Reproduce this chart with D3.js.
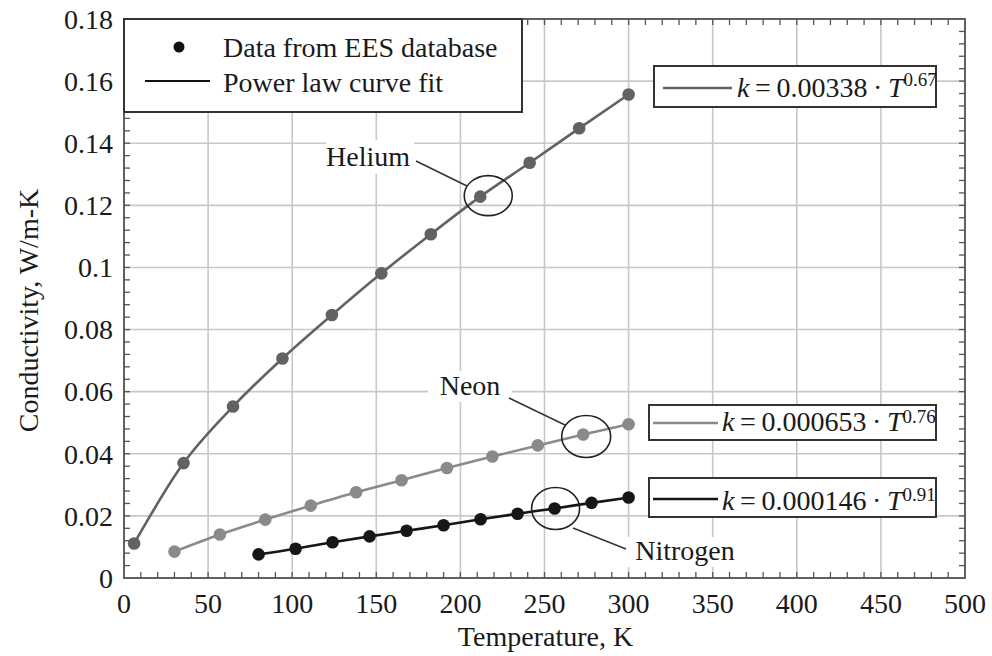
<!DOCTYPE html>
<html>
<head>
<meta charset="utf-8">
<script src="https://cdn.jsdelivr.net/npm/d3@7"></script>
<style>
  html, body { margin: 0; padding: 0; background: #fff; }
  svg { display: block; }
  text { font-family: "Liberation Serif", "Times New Roman", serif; fill: #1a1a1a; }
</style>
</head>
<body>
<svg id="chart" width="992" height="656"></svg>
<script>
// Thermal conductivity of gases (EES) with power-law fits
const heliumT = [6, 35.4, 64.8, 94.2, 123.6, 153, 182.4, 211.8, 241.2, 270.6, 300];
const heliumK = [0.0111, 0.0370, 0.0552, 0.0707, 0.0847, 0.0981, 0.1107, 0.1228, 0.1337, 0.1448, 0.1557];
const neonT = [30, 57, 84, 111, 138, 165, 192, 219, 246, 273, 300];
const neonK = [0.0085, 0.0140, 0.0188, 0.0233, 0.0276, 0.0315, 0.0354, 0.0391, 0.0427, 0.0462, 0.0495];
const nitrogenT = [80, 102, 124, 146, 168, 190, 212, 234, 256, 278, 300];
const nitrogenK = [0.0076, 0.0094, 0.0115, 0.0134, 0.0152, 0.0170, 0.0189, 0.0207, 0.0224, 0.0242, 0.0259];

const gasNames = ["Helium", "Neon", "Nitrogen"];
const fitCoefs = ["0.00338", "0.000653", "0.000146"];
const fitExps = ["0.67", "0.76", "0.91"];

const xTickValues = [0, 50, 100, 150, 200, 250, 300, 350, 400, 450, 500];
const yTickValues = [0, 0.02, 0.04, 0.06, 0.08, 0.1, 0.12, 0.14, 0.16, 0.18];
const yTickLabels = ["0", "0.02", "0.04", "0.06", "0.08", "0.1", "0.12", "0.14", "0.16", "0.18"];

const legendLabels = ["Data from EES database", "Power law curve fit"];
const xTitle = "Temperature, K";
const yTitle = "Conductivity, W/m-K";

const colors = ["#626262", "#8a8a8a", "#161616"];

const margin = { left: 124, right: 27, top: 19, bottom: 78 };
const W = 992, H = 656;
const x = d3.scaleLinear().domain([0, 500]).range([margin.left, W - margin.right]);
const y = d3.scaleLinear().domain([0, 0.18]).range([H - margin.bottom, margin.top]);

const svg = d3.select("#chart");
const FS = 28;

// Grid
const grid = svg.append("g");
grid.selectAll("line.gx").data(xTickValues.slice(1, -1)).join("line")
  .attr("x1", d => x(d)).attr("x2", d => x(d))
  .attr("y1", y(0)).attr("y2", y(0.18))
  .attr("stroke", "#c8c8c8").attr("stroke-width", 1.6);
grid.selectAll("line.gy").data(yTickValues.slice(1, -1)).join("line")
  .attr("y1", d => y(d)).attr("y2", d => y(d))
  .attr("x1", x(0)).attr("x2", x(500))
  .attr("stroke", "#c8c8c8").attr("stroke-width", 1.6);

// Minor ticks on all four sides, pointing inward
const tickLen = 6;
const xMinor = d3.range(10, 500, 10);
const yMinor = d3.range(1, 45).map(i => i * 0.004);
const ticks = svg.append("g").attr("stroke", "#555").attr("stroke-width", 1.3);
ticks.selectAll("line.xb").data(xMinor).join("line")
  .attr("x1", d => x(d)).attr("x2", d => x(d)).attr("y1", y(0)).attr("y2", y(0) - tickLen);
ticks.selectAll("line.xt").data(xMinor).join("line")
  .attr("x1", d => x(d)).attr("x2", d => x(d)).attr("y1", y(0.18)).attr("y2", y(0.18) + tickLen);
ticks.selectAll("line.yl").data(yMinor).join("line")
  .attr("y1", d => y(d)).attr("y2", d => y(d)).attr("x1", x(0)).attr("x2", x(0) + tickLen);
ticks.selectAll("line.yr").data(yMinor).join("line")
  .attr("y1", d => y(d)).attr("y2", d => y(d)).attr("x1", x(500)).attr("x2", x(500) - tickLen);

// Series
const series = [
  { t: heliumT, k: heliumK },
  { t: neonT, k: neonK },
  { t: nitrogenT, k: nitrogenK }
].map((s, i) => ({ name: gasNames[i], color: colors[i], pts: s.t.map((t, j) => [t, s.k[j]]) }));

const line = d3.line().x(d => x(d[0])).y(d => y(d[1])).curve(d3.curveMonotoneX);
const sg = svg.append("g");
series.forEach(s => {
  sg.append("path").attr("d", line(s.pts)).attr("fill", "none")
    .attr("stroke", s.color).attr("stroke-width", 2.6);
  sg.selectAll(null).data(s.pts).join("circle")
    .attr("cx", d => x(d[0])).attr("cy", d => y(d[1])).attr("r", 6.3)
    .attr("fill", s.color);
});

// Frame
svg.append("rect").attr("x", x(0)).attr("y", y(0.18))
  .attr("width", x(500) - x(0)).attr("height", y(0) - y(0.18))
  .attr("fill", "none").attr("stroke", "#505050").attr("stroke-width", 1.8);

// Axis tick labels
svg.append("g").selectAll("text").data(xTickValues).join("text")
  .attr("x", d => x(d)).attr("y", y(0) + 35)
  .attr("text-anchor", "middle").attr("font-size", FS)
  .text(d => d);
svg.append("g").selectAll("text").data(yTickValues).join("text")
  .attr("x", x(0) - 11).attr("y", d => y(d)).attr("dy", "0.35em")
  .attr("text-anchor", "end").attr("font-size", FS)
  .text((d, i) => yTickLabels[i]);

// Axis titles
svg.append("text").attr("x", (x(0) + x(500)) / 2 + 1).attr("y", 646)
  .attr("text-anchor", "middle").attr("font-size", FS).text(xTitle);
svg.append("text").attr("transform", `translate(38,${(y(0) + y(0.18)) / 2 + 12}) rotate(-90)`)
  .attr("text-anchor", "middle").attr("font-size", FS).text(yTitle);

// Legend
const lg = svg.append("g");
lg.append("rect").attr("x", x(0)).attr("y", y(0.18)).attr("width", 398).attr("height", 93)
  .attr("fill", "#fff").attr("stroke", "#333").attr("stroke-width", 2);
lg.append("circle").attr("cx", 179).attr("cy", 47).attr("r", 5.5).attr("fill", "#111");
lg.append("line").attr("x1", 145).attr("x2", 210).attr("y1", 81).attr("y2", 81)
  .attr("stroke", "#111").attr("stroke-width", 2.2);
lg.append("text").attr("x", 223).attr("y", 57).attr("font-size", FS).text(legendLabels[0]);
lg.append("text").attr("x", 223).attr("y", 92).attr("font-size", FS).text(legendLabels[1]);

// Fit equation boxes
const boxes = [
  { x0: 654, y0: 66, h: 41, l0: 663, l1: 732, ly: 88, tx: 737, ty: 97, sup: -11 },
  { x0: 649, y0: 405, h: 35, l0: 653, l1: 718, ly: 423, tx: 722, ty: 431, sup: -8 },
  { x0: 649, y0: 478, h: 39, l0: 653, l1: 718, ly: 499, tx: 722, ty: 510, sup: -9 }
];
boxes.forEach((b, i) => {
  const g = svg.append("g");
  g.append("rect").attr("x", b.x0).attr("y", b.y0).attr("width", 936 - b.x0).attr("height", b.h)
    .attr("fill", "#fff").attr("stroke", "#333").attr("stroke-width", 2);
  g.append("line").attr("x1", b.l0).attr("x2", b.l1).attr("y1", b.ly).attr("y2", b.ly)
    .attr("stroke", colors[i]).attr("stroke-width", 2.6);
  const t = g.append("text").attr("x", b.tx).attr("y", b.ty).attr("font-size", FS);
  t.append("tspan").attr("font-style", "italic").text("k");
  t.append("tspan").text("\u2009=\u2009" + fitCoefs[i] + "\u2009·\u2009");
  t.append("tspan").attr("font-style", "italic").text("T");
  t.append("tspan").attr("font-size", 19).attr("dy", b.sup).text(fitExps[i]);
});

// Callouts: label, leader line and ellipse round one data point of each gas
const callouts = [
  { s: 0, idx: 7, ex: 8, ey: -1, rx: 24, ry: 20, lx: 368, ly: 166, bx: [326, 140, 88, 34], l: [416, 161, 467, 186] },
  { s: 1, idx: 9, ex: 3, ey: 2, rx: 24.5, ry: 21, lx: 470, ly: 395, bx: [428, 371, 84, 31], l: [509, 398, 565, 425] },
  { s: 2, idx: 8, ex: 1, ey: 0, rx: 24, ry: 21, lx: 685, ly: 560, bx: [626, 537, 118, 30], l: [573, 528, 626, 549] }
];
const cg = svg.append("g");
callouts.forEach(c => {
  const p = series[c.s].pts[c.idx];
  cg.append("rect").attr("x", c.bx[0]).attr("y", c.bx[1]).attr("width", c.bx[2]).attr("height", c.bx[3])
    .attr("fill", "#fff");
  cg.append("text").attr("x", c.lx).attr("y", c.ly).attr("text-anchor", "middle")
    .attr("font-size", FS).text(series[c.s].name);
  cg.append("line").attr("x1", c.l[0]).attr("y1", c.l[1]).attr("x2", c.l[2]).attr("y2", c.l[3])
    .attr("stroke", "#333").attr("stroke-width", 1.5);
  cg.append("ellipse").attr("cx", x(p[0]) + c.ex).attr("cy", y(p[1]) + c.ey)
    .attr("rx", c.rx).attr("ry", c.ry)
    .attr("fill", "none").attr("stroke", "#222").attr("stroke-width", 1.6);
});
</script>
</body>
</html>
